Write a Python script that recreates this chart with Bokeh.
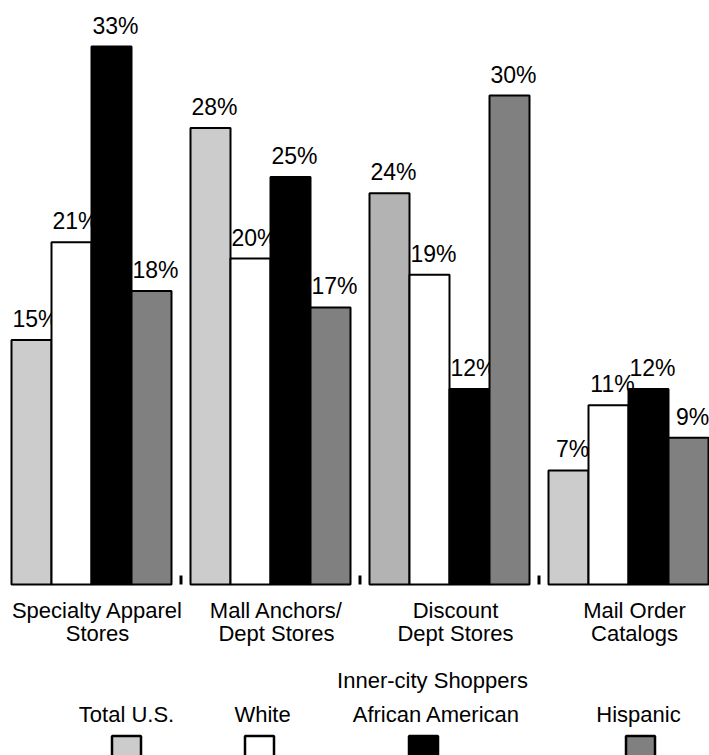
from bokeh.plotting import figure
from bokeh.models import Range1d, ColumnDataSource
from bokeh.core.properties import value
from bokeh.embed import file_html
from bokeh.resources import INLINE

# ---- data ----
categories = ["Specialty Apparel\nStores", "Mall Anchors/\nDept Stores",
              "Discount\nDept Stores", "Mail Order\nCatalogs"]
series = ["Total U.S.", "White", "African American", "Hispanic"]
total_us = [15, 28, 24, 7]
white = [21, 20, 19, 11]
african_american = [33, 25, 12, 12]
hispanic = [18, 17, 30, 9]
legend_title = "Inner-city Shoppers"

# ---- styles / layout ----
FONT = value("Liberation Sans")
total_fills = ["#cccccc", "#cccccc", "#b3b3b3", "#cccccc"]
series_fills = ["#cccccc", "#ffffff", "#000000", "#808080"]
W, H = 709, 755
X_SCALE = 179.0      # px per category
FIRST_PX = 91.0      # px of first category centre
Y_SCALE = 16.3       # px per percent
BASE_PX = 584.0      # baseline px from top
BAR_W = 40.0 / X_SCALE
offsets = [-1.5, -0.5, 0.5, 1.5]
TXT_SHIFT = 7        # baseline correction, px


def px_x(px):
    return (px - FIRST_PX) / X_SCALE


def px_y(py):
    return (BASE_PX - py) / Y_SCALE


p = figure(width=W, height=H, output_backend="svg", toolbar_location=None,
           x_axis_location=None, y_axis_location=None, min_border=0,
           x_range=Range1d(px_x(0), px_x(W)), y_range=Range1d(px_y(H), px_y(0)))
p.outline_line_color = None
p.background_fill_color = "white"
p.border_fill_color = "white"
p.grid.visible = False

values = [total_us, white, african_american, hispanic]
idx = list(range(len(categories)))
for s, (vals, off) in enumerate(zip(values, offsets)):
    xs = [i + off * BAR_W for i in idx]
    fills = total_fills if s == 0 else [series_fills[s]] * len(idx)
    src = ColumnDataSource(dict(x=xs, top=vals, fill=fills,
                                lab=[f"{v}%" for v in vals]))
    p.vbar(x="x", top="top", bottom=0, width=BAR_W, fill_color="fill",
           line_color="black", line_width=2, source=src)
    p.text(x="x", y="top", text="lab", source=src, text_font=FONT,
           text_font_size="23px", text_align="center",
           text_baseline="alphabetic", x_offset=4, y_offset=-14 - TXT_SHIFT,
           text_color="black")

# small ticks between categories
mids = [i + 0.5 for i in idx[:-1]]
p.segment(x0=mids, x1=mids, y0=[0] * len(mids), y1=[9 / Y_SCALE] * len(mids),
          line_color="black", line_width=3)

# category labels (two lines)
line1 = [c.split("\n")[0] for c in categories]
line2 = [c.split("\n")[1] for c in categories]
cat_x = [i + px_x(FIRST_PX + 6) for i in idx]
p.text(x=cat_x, y=[px_y(617 - TXT_SHIFT)] * 4, text=line1, text_font=FONT,
       text_font_size="22px", text_align="center", text_baseline="alphabetic",
       text_color="black")
p.text(x=cat_x, y=[px_y(640 - TXT_SHIFT)] * 4, text=line2, text_font=FONT,
       text_font_size="22px", text_align="center", text_baseline="alphabetic",
       text_color="black")

# legend
p.text(x=[px_x(432)], y=[px_y(687 - TXT_SHIFT)], text=[legend_title],
       text_font=FONT, text_font_size="22px", text_align="center",
       text_baseline="alphabetic", text_color="black")
leg_text_px = [126, 262, 436, 638]
leg_box_px = [126, 259, 423, 640]
p.text(x=[px_x(v) for v in leg_text_px], y=[px_y(721 - TXT_SHIFT)] * 4,
       text=series, text_font=FONT, text_font_size="22px", text_align="center",
       text_baseline="alphabetic", text_color="black")
p.scatter(x=[px_x(v) for v in leg_box_px], y=[px_y(750)] * 4, marker="square",
          size=29, fill_color=series_fills, line_color="black", line_width=2.5)

open("out.html", "w").write(file_html(p, INLINE))
